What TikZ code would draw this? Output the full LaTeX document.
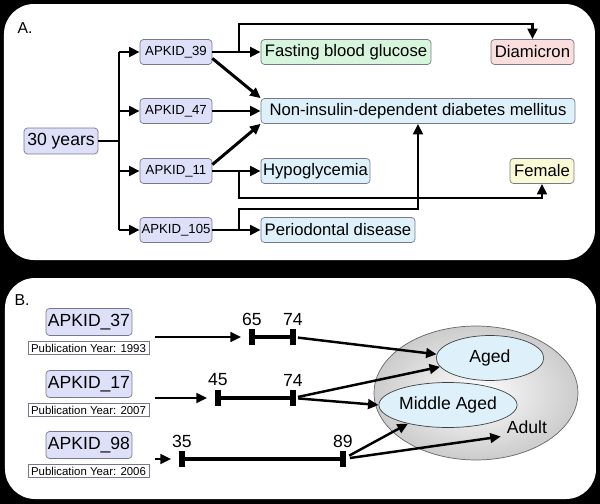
\documentclass[tikz,border=0pt]{standalone}
\usepackage{fontspec}
\setmainfont{Liberation Sans}
\usepackage{tikz}
\usetikzlibrary{calc}
\usetikzlibrary{arrows.meta,shapes.geometric}

\definecolor{idfill}{RGB}{221,224,248}
\definecolor{greenfill}{RGB}{214,245,220}
\definecolor{bluefill}{RGB}{222,241,250}
\definecolor{pinkfill}{RGB}{250,221,221}
\definecolor{yellowfill}{RGB}{250,250,214}
\definecolor{edge}{RGB}{120,120,140}

\tikzset{
    box/.style={draw=edge, rounded corners=2pt, inner sep=0pt, minimum height=0.5cm},
    idbox/.style={box, fill=idfill, minimum width=1.44cm, font=\fontsize{7.5}{9}\selectfont},
    termbox/.style={box, font=\fontsize{9.5}{11}\selectfont},
    bigid/.style={box, fill=idfill, minimum width=1.72cm, minimum height=0.54cm, font=\fontsize{10}{12}\selectfont},
    pubbox/.style={draw=edge, fill=white, inner sep=0pt, minimum width=2.42cm, minimum height=0.25cm, font=\fontsize{6.5}{7}\selectfont},
    link/.style={line width=1.7pt},
    arr/.style={link, -{Triangle[length=6pt,width=5.5pt]}},
    arrb/.style={line width=1.4pt, -{Triangle[length=6pt,width=5.5pt]}},
    bar/.style={line width=2pt},
    tick/.style={line width=3.4pt},
    numlab/.style={font=\fontsize{10}{12}\selectfont, inner sep=1pt},
    agebox/.style={ellipse, draw=black!75, fill=bluefill, inner sep=0pt, minimum width=2.15cm, minimum height=0.9cm, font=\fontsize{10}{12}\selectfont}
}

\begin{document}
\begin{tikzpicture}[x=0.02cm, y=-0.02cm]
    % background and panels
    \fill[black] (0,0) rectangle (600,504);
    \fill[white, rounded corners=0.6cm] (4,4) rectangle (595,260);
    \fill[white, rounded corners=0.6cm] (5,278) rectangle (596,499);

    % panel A
    \node[font=\fontsize{9}{11}\selectfont] (la) at (25,28) {A.};
    \node[box, fill=idfill, minimum width=1.48cm, minimum height=0.52cm, font=\fontsize{10}{12}\selectfont] (yrs) at (61,141) {30 years};
    \node[idbox] (id39) at (176,52) {APKID\_39};
    \node[idbox] (id47) at (176,111) {APKID\_47};
    \node[idbox] (id11) at (176,171) {APKID\_11};
    \node[idbox] (id105) at (176,230) {APKID\_105};

    \node[termbox, fill=greenfill, minimum width=3.4cm] (fbg) at (346,52) {Fasting blood glucose};
    \node[termbox, fill=bluefill, minimum width=6.28cm] (niddm) at (418,111) {Non-insulin-dependent diabetes mellitus};
    \node[termbox, fill=bluefill, minimum width=2.18cm] (hypo) at (315.5,171) {Hypoglycemia};
    \node[termbox, fill=bluefill, minimum width=3.08cm] (perio) at (338,230) {Periodontal disease};
    \node[termbox, fill=pinkfill, minimum width=1.66cm] (dia) at (532.5,52) {Diamicron};
    \node[termbox, fill=yellowfill, minimum width=1.28cm] (fem) at (542,171) {Female};

    % trunk from age
    \coordinate (tr) at (119,141);
    \draw[link] (yrs.east) -- (tr);
    \draw[link] (tr |- id39) -- (tr |- id105);
    \foreach \n in {39,47,11,105} {
        \draw[arr] (tr |- id\n.west) -- (id\n.west);
    }

    % annotations
    \draw[arr] (id39) -- (fbg);
    \draw[arr] (id47) -- (niddm);
    \draw[arr] (id11) -- (hypo);
    \draw[arr] (id105) -- (perio);
    \draw[arr] (id39.-10) -- (niddm.north west);
    \draw[arr] (id11.10) -- (niddm.south west);

    % branches
    \coordinate (b39) at (239,52);
    \coordinate (b11) at (239,171);
    \coordinate (b105) at (239,230);
    \draw[arr] (b39) -- ++(0,-28) -| (dia.north);
    \draw[arr] (b11) -- ++(0,27) -| (fem.south);
    \draw[arr] (b105) -- ++(0,-21) -| (niddm.south);

    % panel B
    \node[font=\fontsize{9}{11}\selectfont] (lb) at (22,300) {B.};
    \foreach \n/\yr/\y in {37/1993/322, 17/2007/384, 98/2006/445} {
        \node[bigid] (pid\n) at (89,\y) {APKID\_\n};
        \node[pubbox] (pub\n) at (88.5,\y+26) {Publication Year: \yr};
    }

    % age ranges
    \foreach \n/\y/\xa/\xb/\lo/\hi in {37/337/252/293/65/74, 17/398/218/293/45/74, 98/459/182/343/35/89} {
        \coordinate (a\n) at (\xa,\y);
        \coordinate (b\n) at (\xb,\y);
        \coordinate (s\n) at (155,\y);
        \draw[bar] (a\n) -- (b\n);
        \draw[tick] ($(a\n)+(0,-8)$) -- ($(a\n)+(0,8)$);
        \draw[tick] ($(b\n)+(0,-8)$) -- ($(b\n)+(0,8)$);
        \node[numlab] (lo\n) at (\xa,\y-18) {\lo};
        \node[numlab] (hi\n) at (\xb,\y-18) {\hi};
        \draw[arrb, shorten >=0.22cm] (s\n) -- (a\n);
    }

    % age groups
    \node[ellipse, draw=black!60, inner color=white, outer color=black!20, minimum width=4.08cm, minimum height=2.68cm] (adultell) at (476,393) {};
    \node[agebox] (aged) at (490,358) {Aged};
    \node[agebox] (mid) at (448,405) {Middle Aged};
    \node[font=\fontsize{10}{12}\selectfont] (adult) at (527,427) {Adult};

    \draw[arrb, shorten <=0.1cm] (b37) -- (aged.176);
    \draw[arrb, shorten <=0.1cm] (b17) -- (aged.190);
    \draw[arrb, shorten <=0.1cm] (b17) -- (mid.west);
    \draw[arrb, shorten <=0.14cm] (b98) -- (mid.205);
    \draw[arrb, shorten <=0.14cm] (b98) -- (adult.200);
\end{tikzpicture}
\end{document}
